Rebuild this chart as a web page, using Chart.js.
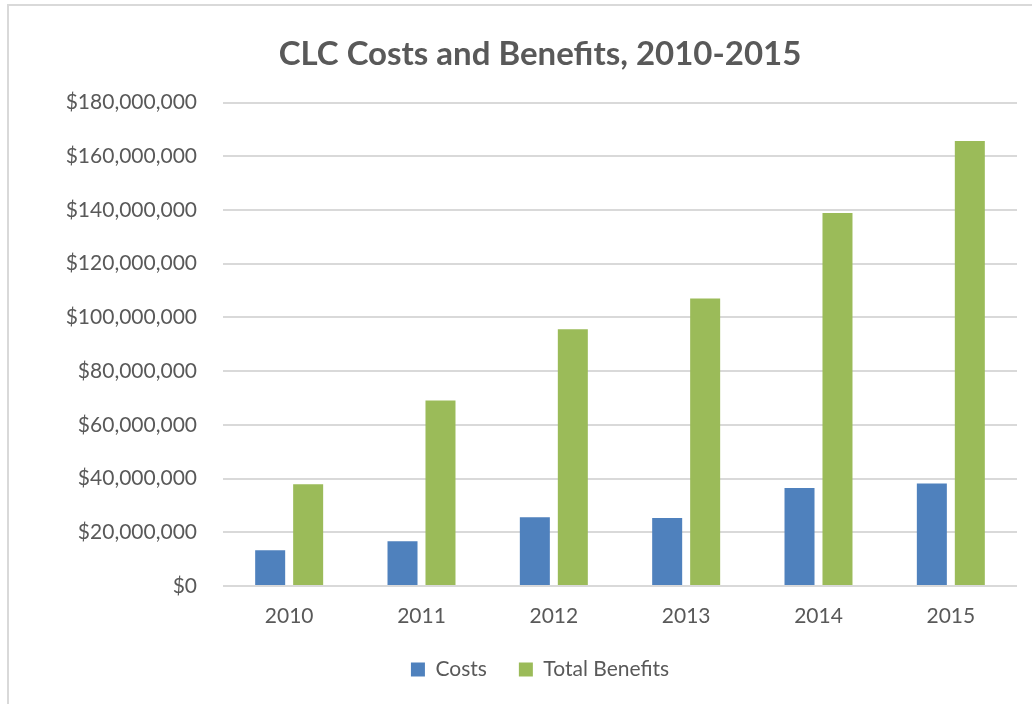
<!DOCTYPE html>
<html>
<head>
<meta charset="utf-8">
<script src="https://cdn.jsdelivr.net/npm/chart.js@4"></script>
<style>
    html, body { margin: 0; padding: 0; background: #fff; }
    #frame {
        position: absolute; left: 7px; top: 4px; width: 1040px; height: 720px;
        border-left: 2px solid #d9d9d9; border-top: 2px solid #d9d9d9;
    }
    #wrap { position: absolute; left: 0; top: 0; width: 1032px; height: 704px; }
</style>
</head>
<body>
<div id="frame"></div>
<div id="wrap"><canvas id="chart"></canvas></div>
<script>
// 数据
const years = ['2010', '2011', '2012', '2013', '2014', '2015'];
const costs = [13300000, 16700000, 25600000, 25300000, 36500000, 38200000];
const totalBenefits = [37900000, 69100000, 95600000, 107100000, 138900000, 165700000];

Chart.defaults.font.family = 'Lato, "Open Sans", sans-serif';
Chart.defaults.color = '#595959';

function createCostChart(canvasId) {
    const ctx = document.getElementById(canvasId).getContext('2d');

    return new Chart(ctx, {
        type: 'bar',
        data: {
            labels: years,
            datasets: [
                {
                    label: 'Costs',
                    data: costs,
                    backgroundColor: '#4f81bd',
                    categoryPercentage: 0.574,
                    barPercentage: 0.79
                },
                {
                    label: 'Total Benefits',
                    data: totalBenefits,
                    backgroundColor: '#9bbb59',
                    categoryPercentage: 0.574,
                    barPercentage: 0.79
                }
            ]
        },
        options: {
            responsive: true,
            maintainAspectRatio: false,
            animation: false,
            layout: {
                padding: { left: 63, right: 15, top: 10, bottom: 14 }
            },
            plugins: {
                title: {
                    display: true,
                    text: 'CLC Costs and Benefits, 2010-2015',
                    color: '#595959',
                    font: { size: 33, weight: 'bold' },
                    padding: { top: 25, bottom: 28 }
                },
                legend: {
                    position: 'bottom',
                    labels: {
                        boxWidth: 14,
                        boxHeight: 14,
                        padding: 32,
                        font: { size: 21 },
                        color: '#595959'
                    }
                },
                tooltip: { enabled: false }
            },
            scales: {
                x: {
                    afterFit: function(scale) { scale.height = 41; },
                    grid: { display: false, drawTicks: false },
                    border: { display: false },
                    ticks: { font: { size: 21, lineHeight: 1 }, padding: 20 }
                },
                y: {
                    min: 0,
                    max: 180000000,
                    afterFit: function(scale) { scale.width = 160; },
                    grid: { color: '#d9d9d9', lineWidth: 2, drawTicks: false },
                    border: { display: false },
                    ticks: {
                        stepSize: 20000000,
                        padding: 26,
                        font: { size: 21 },
                        callback: function(value) {
                            return '$' + value.toLocaleString('en-US');
                        }
                    }
                }
            }
        }
    });
}

createCostChart('chart');
</script>
</body>
</html>
